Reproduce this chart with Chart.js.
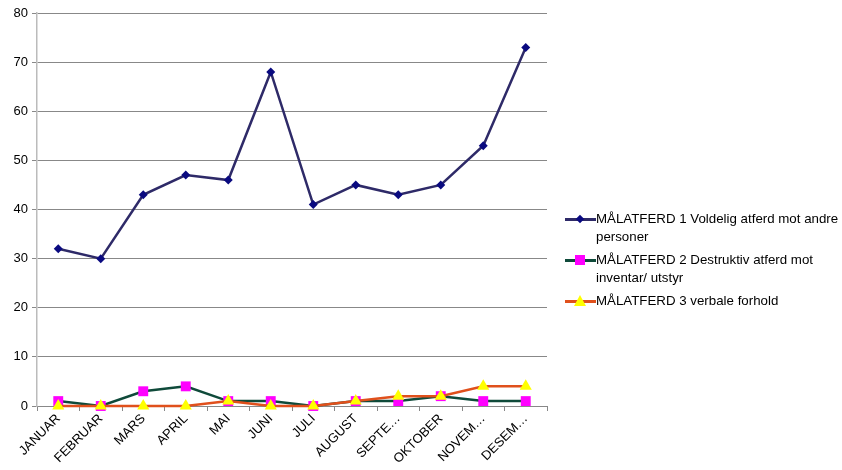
<!DOCTYPE html>
<html>
<head>
<meta charset="utf-8">
<script src="https://cdn.jsdelivr.net/npm/chart.js@4/dist/chart.umd.min.js"></script>
<style>
  body { margin: 0; background: #fff; }
  #wrap { position: relative; width: 842px; height: 470px; }
  #legend { position: absolute; left: 565px; top: 210px; font: 13.3px "Liberation Sans", Arial, sans-serif; color: #000; }
  .item { display: flex; align-items: flex-start; margin-bottom: 5px; line-height: 18px; }
  .sample { position: relative; width: 31px; height: 18px; flex: none; }
  .sample .ln { position: absolute; left: 0; right: 0; top: 8px; height: 3px; }
  .sample .mk { position: absolute; }
</style>
</head>
<body>
<div id="wrap">
  <canvas id="chart" width="842" height="470"></canvas>
  <div id="legend"></div>
</div>
<script>
// Månedlig registrering av målatferd
const maaneder = ['JANUAR', 'FEBRUAR', 'MARS', 'APRIL', 'MAI', 'JUNI', 'JULI', 'AUGUST', 'SEPTE…', 'OKTOBER', 'NOVEM…', 'DESEM…'];
const voldelig = [32, 30, 43, 47, 46, 68, 41, 45, 43, 45, 53, 73];
const destruktiv = [1, 0, 3, 4, 1, 1, 0, 1, 1, 2, 1, 1];
const verbale = [0, 0, 0, 0, 1, 0, 0, 1, 2, 2, 4, 4];
const yTicks = [0, 10, 20, 30, 40, 50, 60, 70, 80];

const serier = [
    { navn: ['MÅLATFERD 1 Voldelig atferd mot andre', 'personer'], data: voldelig, linje: '#2e2a68', punkt: '#0a0a80', stil: 'rectRot', r: 4.5 },
    { navn: ['MÅLATFERD 2 Destruktiv atferd mot', 'inventar/ utstyr'], data: destruktiv, linje: '#0f4a3a', punkt: '#ff00ff', stil: 'rect', r: 7 },
    { navn: ['MÅLATFERD 3 verbale forhold'], data: verbale, linje: '#e0501c', punkt: '#ffff00', stil: 'triangle', r: 7 }
];

const font = { family: '"Liberation Sans", Arial, sans-serif', size: 13 };

new Chart(document.getElementById('chart'), {
    type: 'line',
    data: {
        labels: maaneder,
        datasets: serier.map(s => ({
            label: s.navn.join(' '),
            data: s.data,
            borderColor: s.linje,
            borderWidth: 2.5,
            pointStyle: s.stil,
            pointRadius: s.r,
            pointHoverRadius: s.r,
            pointBackgroundColor: s.punkt,
            pointBorderColor: s.punkt,
            pointBorderWidth: 0,
            tension: 0,
            clip: false
        })).reverse()
    },
    options: {
        responsive: false,
        animation: false,
        layout: { padding: { top: 13, right: 295, left: 0, bottom: 0 } },
        plugins: { legend: { display: false }, tooltip: { enabled: false } },
        scales: {
            x: {
                offset: true,
                grid: { offset: true, drawOnChartArea: false, drawTicks: true, tickLength: 5, color: '#888' },
                border: { color: '#888', width: 1 },
                ticks: { color: '#000', font: font, minRotation: 45, maxRotation: 45, autoSkip: false, padding: 0 },
                afterFit: s => { s.height = 64; }
            },
            y: {
                min: 0, max: 80,
                afterBuildTicks: s => { s.ticks = yTicks.map(v => ({ value: v })); },
                grid: { color: '#888', tickLength: 5, lineWidth: 1 },
                border: { color: '#bbb', width: 1.5 },
                ticks: { color: '#000', font: font, padding: 4 },
                afterFit: s => { s.width = 37; }
            }
        }
    }
});

// Legende som HTML
const legend = document.getElementById('legend');
serier.forEach(s => {
    const item = document.createElement('div');
    item.className = 'item';
    const sample = document.createElement('span');
    sample.className = 'sample';
    const ln = document.createElement('span');
    ln.className = 'ln';
    ln.style.background = s.linje;
    const mk = document.createElement('span');
    mk.className = 'mk';
    if (s.stil === 'rectRot') {
        Object.assign(mk.style, { left: '12px', top: '6px', width: '6px', height: '6px', background: s.punkt, transform: 'rotate(45deg)' });
    } else if (s.stil === 'rect') {
        Object.assign(mk.style, { left: '10px', top: '4px', width: '10px', height: '10px', background: s.punkt });
    } else {
        Object.assign(mk.style, { left: '9px', top: '3px', width: '0', height: '0', borderLeft: '6px solid transparent', borderRight: '6px solid transparent', borderBottom: '11px solid ' + s.punkt });
    }
    sample.appendChild(ln);
    sample.appendChild(mk);
    const txt = document.createElement('span');
    txt.innerHTML = s.navn.join('<br>');
    item.appendChild(sample);
    item.appendChild(txt);
    legend.appendChild(item);
});
</script>
</body>
</html>
